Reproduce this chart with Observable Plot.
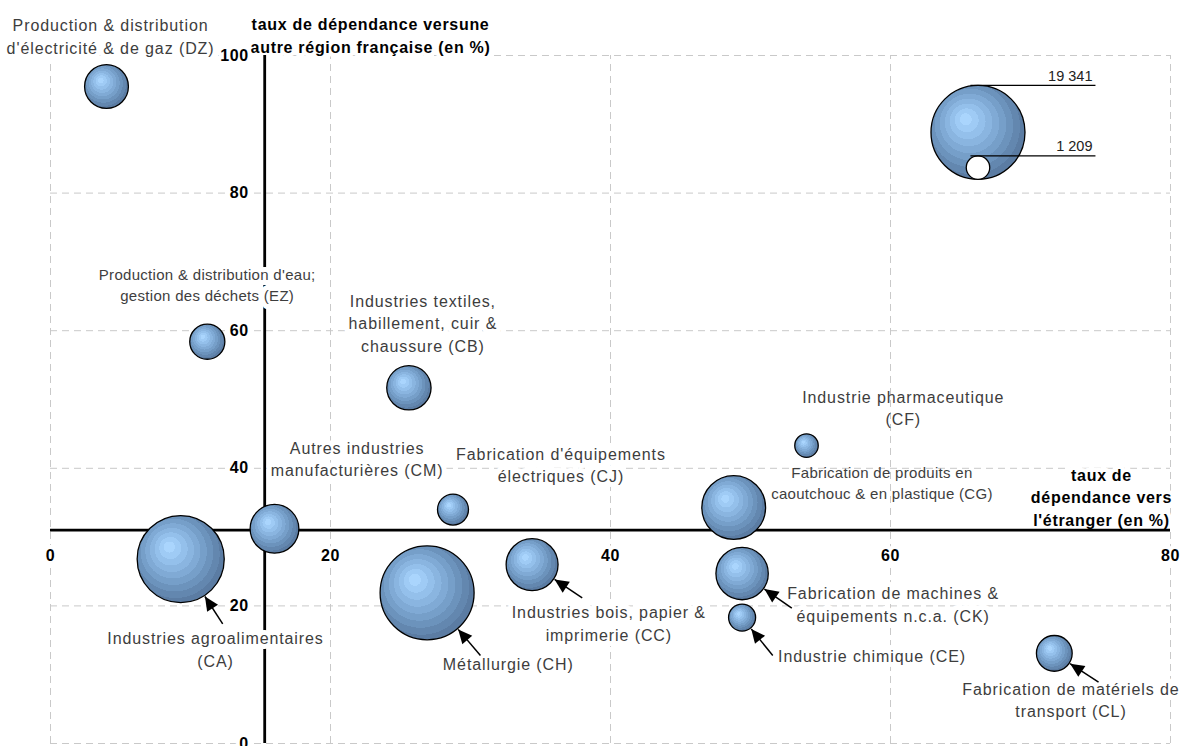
<!DOCTYPE html>
<html lang="fr">
<head>
<meta charset="utf-8">
<script src="https://cdn.jsdelivr.net/npm/d3@7"></script>
<script src="https://cdn.jsdelivr.net/npm/@observablehq/plot@0.6"></script>
<style>
  html, body { margin: 0; padding: 0; background: #fff; }
  #chart svg { display: block; }
</style>
</head>
<body>
<div id="chart"></div>
<script>
// ---- Data: one entry per industrial sector ----
const codes = ["DZ", "EZ", "CA", "CM", "CJ", "CH", "CB", "CC", "CG", "CK", "CE", "CF", "CL"];
const sectorNames = [
  "Production & distribution\nd'électricité & de gaz (DZ)",
  "Production & distribution d'eau;\ngestion des déchets (EZ)",
  "Industries agroalimentaires\n(CA)",
  "Autres industries\nmanufacturières (CM)",
  "Fabrication d'équipements\nélectriques (CJ)",
  "Métallurgie (CH)",
  "Industries textiles,\nhabillement, cuir &\nchaussure (CB)",
  "Industries bois, papier &\nimprimerie (CC)",
  "Fabrication de produits en\ncaoutchouc & en plastique (CG)",
  "Fabrication de machines &\néquipements n.c.a. (CK)",
  "Industrie chimique (CE)",
  "Industrie pharmaceutique\n(CF)",
  "Fabrication de matériels de\ntransport (CL)"
];
// taux de dépendance vers l'étranger (%)
const foreignDependence = [4.0, 11.2, 9.3, 16.0, 28.75, 26.9, 25.6, 34.4, 48.8, 49.4, 49.4, 54.0, 71.7];
// taux de dépendance vers une autre région française (%)
const regionalDependence = [95.5, 58.4, 26.8, 31.2, 34.0, 21.9, 51.7, 26.0, 34.3, 24.7, 18.3, 43.3, 13.1];
// bubble sizes
const bubbleValues = [4200, 2700, 16600, 5200, 2100, 19341, 4300, 5900, 8900, 6000, 1600, 1209, 2800];
const legendValues = [19341, 1209];

const xTicks = [0, 20, 40, 60, 80];
const yTicks = [0, 20, 40, 60, 80, 100];
const crossX = 15.3;   // where the vertical axis crosses
const crossY = 31;     // where the horizontal axis crosses

const xTitle = "taux de\ndépendance vers\nl'étranger (en %)";
const yTitle = "taux de dépendance versune\nautre région française (en %)";

// ---- Layout: label anchors (data units) ----
const labelLayout = {
  DZ: {x: 4.29, y: 102.97}, EZ: {x: 11.19, y: 66.89}, CA: {x: 11.79, y: 13.88},
  CM: {x: 21.9, y: 41.54}, CJ: {x: 36.46, y: 40.65}, CH: {x: 32.7, y: 11.8},
  CB: {x: 26.6, y: 61.27}, CC: {x: 39.88, y: 17.63}, CG: {x: 59.39, y: 38.05},
  CK: {x: 60.19, y: 20.42}, CE: {x: 58.68, y: 12.86}, CF: {x: 60.91, y: 48.95},
  CL: {x: 72.89, y: 6.49}
};
const smallLabels = new Set(["EZ", "CG"]);
const unboxedLabels = new Set(["CF", "CG"]);
const arrowStart = {
  CA: [12.3, 17.4], CH: [30.71, 12.79], CC: [37.98, 21.18],
  CK: [52.95, 19.67], CE: [51.59, 12.79], CL: [74.86, 8.91]
};
const xTitleAt = {x: 75.07, y: 35.96};
const yTitleAt = {x: 22.86, y: 103.1};
const legendAt = {x: 66.25, base: 82, lineStart: 65.71, lineEnd: 74.64};

// paint keys used to find groups again once drawn
const BUBBLE = "#7fa8d7", LABEL_L = "#3d3d3d", LABEL_S = "#3e3e3e", TITLE = "#010101", POINTER = "#000001";

const rows = codes.map((code, i) => ({
  code, name: sectorNames[i],
  x: foreignDependence[i], y: regionalDependence[i], v: bubbleValues[i]
}));
const labelRows = rows.map(d => ({...d, lx: labelLayout[d.code].x, ly: labelLayout[d.code].y}));

const base = {
  width: 1183, height: 746,
  marginLeft: 50, marginRight: 13, marginTop: 55, marginBottom: 3,
  x: {domain: [0, 80], axis: null},
  y: {domain: [0, 100], axis: null},
  r: {domain: [0, d3.max(legendValues)], range: [0, 47]},
  style: {fontFamily: "'Liberation Sans', Arial, sans-serif", fontSize: "16px", background: "#fff", overflow: "visible"}
};

// First pass: obtain the scales to place arrow tips on bubble edges
const probe = Plot.plot({...base, marks: [Plot.dot(rows, {x: "x", y: "y", r: "v"})]});
const sx = probe.scale("x"), sy = probe.scale("y"), sr = probe.scale("r");

const arrowRows = Object.entries(arrowStart).map(([code, [x1, y1]]) => {
  const d = rows.find(r => r.code === code);
  const px = sx.apply(x1), py = sy.apply(y1);
  const dx = sx.apply(d.x) - px, dy = sy.apply(d.y) - py;
  const len = Math.hypot(dx, dy);
  const k = (len - sr.apply(d.v) - 1) / len;
  return {x1, y1, x2: sx.invert(px + dx * k), y2: sy.invert(py + dy * k)};
});

const legendBasePx = sy.apply(legendAt.base);
const legendTopY = v => sy.invert(legendBasePx - 2 * sr.apply(v));
const legendCenterY = v => sy.invert(legendBasePx - sr.apply(v));
const fmt = d3.formatLocale({decimal: ",", thousands: " ", grouping: [3], currency: ["", "€"]}).format(",d");

const labelMark = (filter, size, boxed) => Plot.text(labelRows.filter(filter), {
  x: "lx", y: "ly", text: "name", fontSize: size, lineHeight: size === 16 ? 1.42 : 1.4,
  fill: size === 16 ? LABEL_L : LABEL_S,
  ...(boxed ? {stroke: "white", strokeWidth: 10, strokeLinejoin: "round"} : {})
});

const chart = Plot.plot({
  ...base,
  marks: [
    // dashed grid
    Plot.ruleX(xTicks, {x: d => d, y1: 0, y2: 100, stroke: "#c9c9c9", strokeWidth: 1, strokeDasharray: "7,5"}),
    Plot.ruleY(yTicks, {y: d => d, x1: 0, x2: 80, stroke: "#c9c9c9", strokeWidth: 1, strokeDasharray: "7,5"}),
    // axis titles
    Plot.text([yTitle], {x: () => yTitleAt.x, y: () => yTitleAt.y, text: d => d, fontWeight: "bold", fontSize: 16,
      lineHeight: 1.44, fill: TITLE, stroke: "white", strokeWidth: 8}),
    Plot.text([xTitle], {x: () => xTitleAt.x, y: () => xTitleAt.y, text: d => d, fontWeight: "bold", fontSize: 16,
      lineHeight: 1.41, fill: TITLE, stroke: "white", strokeWidth: 8}),
    // crossing axes
    Plot.ruleY([crossY], {x1: 0, x2: 80, stroke: "black", strokeWidth: 2.8}),
    Plot.ruleX([crossX], {y1: 0, y2: 100, stroke: "black", strokeWidth: 2.8}),
    // tick labels
    Plot.text(xTicks, {x: d => d, y: () => crossY, dy: 26, text: d => String(d), fontWeight: "bold", fontSize: 16,
      fill: "black", stroke: "white", strokeWidth: 8}),
    Plot.text(yTicks, {x: () => crossX, y: d => d, dx: -16, textAnchor: "end", text: d => String(d), fontWeight: "bold",
      fontSize: 16, fill: "black", stroke: "white", strokeWidth: 8}),
    // bubbles
    Plot.dot(rows, {x: "x", y: "y", r: "v", fill: BUBBLE, stroke: "black", strokeWidth: 1.3}),
    // sector labels
    labelMark(d => !smallLabels.has(d.code) && !unboxedLabels.has(d.code), 16, true),
    labelMark(d => !smallLabels.has(d.code) && unboxedLabels.has(d.code), 16, false),
    labelMark(d => smallLabels.has(d.code) && !unboxedLabels.has(d.code), 15, true),
    labelMark(d => smallLabels.has(d.code) && unboxedLabels.has(d.code), 15, false),
    // pointer arrows
    Plot.link(arrowRows, {x1: "x1", y1: "y1", x2: "x2", y2: "y2", stroke: POINTER, strokeWidth: 1.5}),
    // size legend
    Plot.dot([legendValues[0]], {x: () => legendAt.x, y: legendCenterY, r: d => d, fill: BUBBLE, stroke: "black",
      strokeWidth: 1.3}),
    Plot.dot([legendValues[1]], {x: () => legendAt.x, y: legendCenterY, r: d => d, fill: "white", stroke: "black",
      strokeWidth: 1.3}),
    Plot.link(legendValues, {x1: () => legendAt.lineStart, x2: () => legendAt.lineEnd, y1: legendTopY, y2: legendTopY,
      stroke: "black", strokeWidth: 1.2}),
    Plot.text(legendValues, {x: () => legendAt.lineEnd, y: legendTopY, dy: -9, dx: -3, textAnchor: "end",
      text: d => fmt(d), fontSize: 14.5, fill: "#222"})
  ]
});

// gradient shading for bubbles, filled arrowheads, text tracking
const svg = d3.select(chart);
const defs = svg.insert("defs", ":first-child");
const grad = defs.append("radialGradient").attr("id", "bubble-fill")
  .attr("cx", 0.45).attr("cy", 0.45).attr("r", 0.57).attr("fx", 0.36).attr("fy", 0.35);
const bands = ["#aad5fd", "#9fcbf5", "#94c0eb", "#8ab5e0", "#80aad5", "#769fc9", "#6c93bc", "#6387af", "#5b7ca3"];
bands.forEach((c, i) => {
  grad.append("stop").attr("offset", i / bands.length).attr("stop-color", c);
  grad.append("stop").attr("offset", (i + 1) / bands.length).attr("stop-color", c);
});
defs.append("marker").attr("id", "arrowhead").attr("markerUnits", "userSpaceOnUse")
  .attr("viewBox", "-16 -9 18 18").attr("markerWidth", 18).attr("markerHeight", 18)
  .attr("refX", 0).attr("refY", 0).attr("orient", "auto")
  .append("path").attr("d", "M0,0L-14,-6.5L-14,6.5Z").attr("fill", "black");

const byPaint = (attr, value, tag) =>
  svg.selectAll(`g[${attr}]`).filter(function () {
    return d3.color(this.getAttribute(attr))?.formatHex() === value;
  }).selectAll(tag);

byPaint("fill", BUBBLE, "circle").attr("fill", "url(#bubble-fill)");
byPaint("stroke", POINTER, "path,line").attr("marker-end", "url(#arrowhead)");
byPaint("fill", LABEL_L, "text").style("letter-spacing", "0.9px");
byPaint("fill", LABEL_S, "text").style("letter-spacing", "0.3px");
byPaint("fill", TITLE, "text").style("letter-spacing", "0.7px");
byPaint("fill", "#000000", "text").style("letter-spacing", "0.6px");

document.getElementById("chart").appendChild(chart);
</script>
</body>
</html>
